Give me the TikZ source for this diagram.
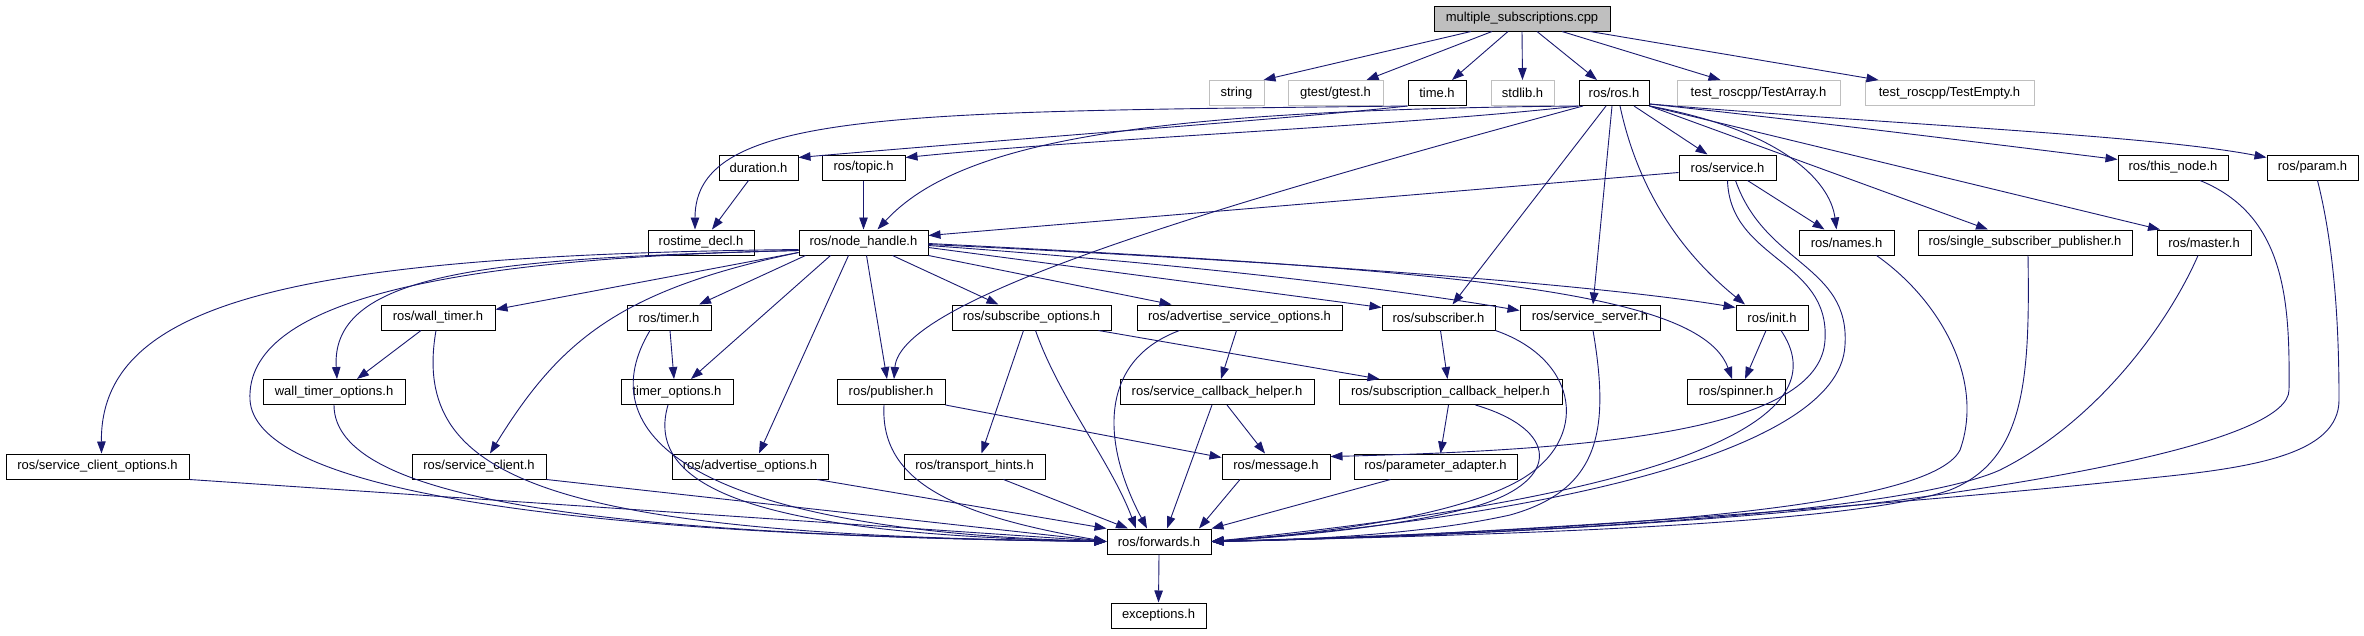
\documentclass[tikz,border=0pt]{standalone}
\usepackage{fontspec}
\setmainfont{Liberation Sans}
\usetikzlibrary{arrows.meta}
\definecolor{edgeblue}{HTML}{191970}
\definecolor{grayb}{HTML}{BFBFBF}
\begin{document}
\begin{tikzpicture}[x=1pt,y=-1pt,
  every node/.style={font=\fontsize{13pt}{15pt}\selectfont, inner sep=0pt, minimum height=25pt, anchor=center},
  hdr/.style={draw=black, line width=1pt, fill=white},
  ext/.style={draw=grayb, line width=1pt, fill=white},
  mainbox/.style={draw=black, line width=1pt, fill=grayb},
  dep/.style={draw=edgeblue, line width=0.9pt, -{Triangle[length=12pt,width=8.5pt]}, fill=none}
]
\fill[white] (0,0) rectangle (2364,635);
\useasboundingbox (0,0) rectangle (2364,635);

% ---- nodes ----
\node[mainbox, minimum width=176pt] (main) at (1522,18.5) {multiple\_subscriptions.cpp};
% row 1
\node[ext, minimum width=55pt] (string) at (1236.5,93) {string};
\node[ext, minimum width=95pt] (gtest) at (1335.5,93) {gtest/gtest.h};
\node[hdr, minimum width=58pt] (timeh) at (1437,93) {time.h};
\node[ext, minimum width=63pt] (stdlib) at (1522.5,93) {stdlib.h};
\node[hdr, minimum width=70pt] (rosh) at (1614,93) {ros/ros.h};
\node[ext, minimum width=163pt] (testarray) at (1758.5,93) {test\_roscpp/TestArray.h};
\node[ext, minimum width=169pt] (testempty) at (1949.5,93) {test\_roscpp/TestEmpty.h};
% row 2
\node[hdr, minimum width=79pt] (duration) at (758.5,167.5) {duration.h};
\node[hdr, minimum width=83pt] (topic) at (863.5,167.5) {ros/topic.h};
\node[hdr, minimum width=97pt] (service) at (1727.5,167.5) {ros/service.h};
\node[hdr, minimum width=110pt] (thisnode) at (2173,167.5) {ros/this\_node.h};
\node[hdr, minimum width=91pt] (param) at (2312.5,167.5) {ros/param.h};
% row 3
\node[hdr, minimum width=106pt] (rostime) at (701,242.5) {rostime\_decl.h};
\node[hdr, minimum width=129pt] (nodehandle) at (863.5,242.5) {ros/node\_handle.h};
\node[hdr, minimum width=95pt] (names) at (1846.5,242.5) {ros/names.h};
\node[hdr, minimum width=214pt] (ssp) at (2025,242.5) {ros/single\_subscriber\_publisher.h};
\node[hdr, minimum width=94pt] (master) at (2204,242.5) {ros/master.h};
% row 4
\node[hdr, minimum width=114pt] (walltimer) at (438,317.5) {ros/wall\_timer.h};
\node[hdr, minimum width=84pt] (timer) at (669,317.5) {ros/timer.h};
\node[hdr, minimum width=159pt] (subopts) at (1031.5,317.5) {ros/subscribe\_options.h};
\node[hdr, minimum width=205pt] (advsrvopts) at (1239.5,317.5) {ros/advertise\_service\_options.h};
\node[hdr, minimum width=113pt] (subscriber) at (1438.5,317.5) {ros/subscriber.h};
\node[hdr, minimum width=140pt] (srvserver) at (1590,317.5) {ros/service\_server.h};
\node[hdr, minimum width=72pt] (init) at (1772,317.5) {ros/init.h};
% row 5
\node[hdr, minimum width=142pt] (wtopts) at (334,392) {wall\_timer\_options.h};
\node[hdr, minimum width=112pt] (topts) at (677,392) {timer\_options.h};
\node[hdr, minimum width=108pt] (publisher) at (891,392) {ros/publisher.h};
\node[hdr, minimum width=194pt] (srvcbh) at (1217,392) {ros/service\_callback\_helper.h};
\node[hdr, minimum width=223pt] (subcbh) at (1450.5,392) {ros/subscription\_callback\_helper.h};
\node[hdr, minimum width=98pt] (spinner) at (1736,392) {ros/spinner.h};
% row 6
\node[hdr, minimum width=183pt] (sco) at (97.5,466.5) {ros/service\_client\_options.h};
\node[hdr, minimum width=134pt] (sc) at (479,466.5) {ros/service\_client.h};
\node[hdr, minimum width=156pt] (advopts) at (750,466.5) {ros/advertise\_options.h};
\node[hdr, minimum width=141pt] (th) at (974.5,466.5) {ros/transport\_hints.h};
\node[hdr, minimum width=108pt] (message) at (1276,466.5) {ros/message.h};
\node[hdr, minimum width=163pt] (padapter) at (1435.5,466.5) {ros/parameter\_adapter.h};
% row 7, 8
\node[hdr, minimum width=104pt] (forwards) at (1159,541.5) {ros/forwards.h};
\node[hdr, minimum width=95pt] (exceptions) at (1158.5,615.5) {exceptions.h};

% ---- edges from main ----
\draw[dep] ([xshift=-51pt]main.south) -- ([xshift=27pt]string.north);
\draw[dep] ([xshift=-30pt]main.south) -- ([xshift=31pt]gtest.north);
\draw[dep] ([xshift=-14pt]main.south) -- ([xshift=15pt]timeh.north);
\draw[dep] (main.south) -- (stdlib.north);
\draw[dep] ([xshift=15pt]main.south) -- ([xshift=-17pt]rosh.north);
\draw[dep] ([xshift=40pt]main.south) -- ([xshift=-38pt]testarray.north);
\draw[dep] ([xshift=68pt]main.south) -- ([xshift=-71pt]testempty.north);

% ---- time.h ----
\draw[dep] (timeh.south west) .. controls (1300,118) and (1000,140) .. ([yshift=10pt]duration.east);
\draw[dep] (timeh.south west) .. controls (900,112) and (695,110) .. ([xshift=-6pt]rostime.north);
\draw[dep] ([xshift=-10pt]duration.south) -- ([xshift=11pt]rostime.north);
\draw[dep] (topic.south) -- (nodehandle.north);

% ---- ros.h ----
\draw[dep] (rosh.south west) .. controls (1400,126) and (1100,138) .. ([yshift=10pt]topic.east);
\draw[dep] (rosh.south west) .. controls (1150,110) and (960,140) .. ([xshift=14pt]nodehandle.north);
\draw[dep] ([xshift=-31pt]rosh.south) .. controls (1200,210) and (900,300) .. ([xshift=3pt]publisher.north);
\draw[dep] ([xshift=-8pt]rosh.south) -- ([xshift=14pt]subscriber.north);
\draw[dep] ([xshift=-2pt]rosh.south) -- ([xshift=3pt]srvserver.north);
\draw[dep] ([xshift=6pt]rosh.south) .. controls (1640,200) and (1690,260) .. ([xshift=-27pt]init.north);
\draw[dep] ([xshift=20pt]rosh.south) -- ([xshift=-20pt]service.north);
\draw[dep] (rosh.south east) .. controls (1780,130) and (1830,180) .. ([xshift=-10pt]names.north);
\draw[dep] (rosh.south east) -- ([xshift=-37pt]ssp.north);
\draw[dep] (rosh.south east) -- ([xshift=-44pt]master.north);
\draw[dep] ([yshift=2pt]rosh.south east) .. controls (1800,120) and (2000,145) .. ([yshift=8pt]thisnode.west);
\draw[dep] ([yshift=2pt]rosh.south east) .. controls (1900,125) and (2150,135) .. ([yshift=10pt]param.west);

% ---- service.h ----
\draw[dep] ([yshift=-5pt]service.west) -- ([yshift=7pt]nodehandle.east);
\draw[dep] ([xshift=20pt]service.south) -- ([xshift=-22pt]names.north);
\draw[dep] (service.south) .. controls (1730,260) and (1830,260) .. (1825,340) .. controls (1820,430) and (1600,450) .. ([yshift=10pt]message.east);
\draw[dep] ([xshift=8pt]service.south) .. controls (1765,265) and (1850,265) .. (1845,345) .. controls (1840,460) and (1500,520) .. (forwards.east);

% ---- node_handle.h ----
\draw[dep] ([yshift=-1pt]nodehandle.east) .. controls (1450,270) and (1700,290) .. ([xshift=-4pt]spinner.north);
\draw[dep] ([yshift=-2pt]nodehandle.east) .. controls (1300,262) and (1600,285) .. ([yshift=10pt]init.west);
\draw[dep] ([yshift=-3pt]nodehandle.east) .. controls (1200,265) and (1400,290) .. ([yshift=7pt]srvserver.west);
\draw[dep] ([yshift=-5pt]nodehandle.east) -- ([yshift=10pt]subscriber.west);
\draw[dep] (nodehandle.south east) -- ([xshift=-68pt]advsrvopts.north);
\draw[dep] ([xshift=29pt]nodehandle.south) -- ([xshift=-33pt]subopts.north);
\draw[dep] ([xshift=3pt]nodehandle.south) -- ([xshift=-4pt]publisher.north);
\draw[dep] ([xshift=-15pt]nodehandle.south) -- ([xshift=9pt]advopts.north);
\draw[dep] ([xshift=-33pt]nodehandle.south) -- ([xshift=14pt]topts.north);
\draw[dep] ([xshift=-58pt]nodehandle.south) -- ([xshift=30pt]timer.north);
\draw[dep] ([yshift=-10pt]nodehandle.west) .. controls (620,290) and (560,340) .. ([xshift=11pt]sc.north);
\draw[dep] ([yshift=-10pt]nodehandle.west) -- ([yshift=8pt]walltimer.east);
\draw[dep] ([yshift=-8pt]nodehandle.west) .. controls (500,258) and (330,270) .. ([xshift=3pt]wtopts.north);
\draw[dep] ([yshift=-8pt]nodehandle.west) .. controls (450,258) and (245,300) .. (250,400) .. controls (255,480) and (500,535) .. (forwards.west);
\draw[dep] ([yshift=-7pt]nodehandle.west) .. controls (300,255) and (100,300) .. ([xshift=4pt]sco.north);

% ---- timers ----
\draw[dep] ([xshift=-17pt]walltimer.south) -- ([xshift=23pt]wtopts.north);
\draw[dep] ([xshift=-2pt]walltimer.south) .. controls (410,480) and (550,535) .. (forwards.west);
\draw[dep] (wtopts.south) .. controls (334,500) and (600,535) .. (forwards.west);
\draw[dep] ([xshift=1pt]timer.south) -- ([xshift=-3pt]topts.north);
\draw[dep] ([xshift=-19pt]timer.south) .. controls (590,430) and (680,530) .. (forwards.west);
\draw[dep] ([xshift=-9pt]topts.south) .. controls (640,500) and (800,535) .. (forwards.west);

% ---- row 6 into forwards ----
\draw[dep] (sco.south east) -- (forwards.west);
\draw[dep] (sc.south east) -- (forwards.west);
\draw[dep] ([xshift=67pt]advopts.south) -- (forwards.north west);
\draw[dep] ([xshift=29pt]th.south) -- ([xshift=-31pt]forwards.north);

% ---- options / helpers ----
\draw[dep] ([xshift=-8pt]subopts.south) -- ([xshift=7pt]th.north);
\draw[dep] ([xshift=4pt]subopts.south) .. controls (1060,400) and (1110,460) .. ([xshift=-23pt]forwards.north);
\draw[dep] ([xshift=67pt]subopts.south) -- ([xshift=-71pt]subcbh.north);
\draw[dep] ([xshift=-3pt]advsrvopts.south) -- ([xshift=4pt]srvcbh.north);
\draw[dep] ([xshift=-60pt]advsrvopts.south) .. controls (1100,360) and (1100,440) .. ([xshift=-12pt]forwards.north);
\draw[dep] ([xshift=2pt]subscriber.south) -- ([xshift=-3pt]subcbh.north);
\draw[dep] (subscriber.south east) .. controls (1580,360) and (1590,440) .. (1520,480) .. controls (1450,520) and (1300,535) .. (forwards.east);
\draw[dep] ([xshift=3pt]srvserver.south) .. controls (1610,430) and (1600,490) .. (1510,515) .. controls (1420,535) and (1300,540) .. (forwards.east);
\draw[dep] ([xshift=-7pt]publisher.south) .. controls (880,480) and (950,515) .. (forwards.west);
\draw[dep] (publisher.south east) -- ([yshift=9pt]message.west);
\draw[dep] ([xshift=10pt]srvcbh.south) -- ([xshift=-11pt]message.north);
\draw[dep] ([xshift=-5pt]srvcbh.south) -- ([xshift=8pt]forwards.north);
\draw[dep] ([xshift=-2pt]subcbh.south) -- ([xshift=5pt]padapter.north);
\draw[dep] ([xshift=25pt]subcbh.south) .. controls (1560,430) and (1560,480) .. (1480,505) .. controls (1400,528) and (1280,537) .. (forwards.east);
\draw[dep] ([xshift=-45pt]padapter.south) -- (forwards.north east);
\draw[dep] ([xshift=-36pt]message.south) -- ([xshift=40pt]forwards.north);

% ---- init ----
\draw[dep] ([xshift=-6pt]init.south) -- ([xshift=9pt]spinner.north);
\draw[dep] ([xshift=9pt]init.south) .. controls (1835,410) and (1720,490) .. (forwards.east);

% ---- right side into forwards ----
\draw[dep] ([xshift=30pt]names.south) .. controls (1940,300) and (1985,380) .. (1960,450) .. controls (1930,510) and (1600,530) .. (forwards.east);
\draw[dep] ([xshift=3pt]ssp.south) .. controls (2030,380) and (2025,460) .. (1950,490) .. controls (1850,525) and (1500,535) .. (forwards.east);
\draw[dep] ([xshift=-6pt]master.south) .. controls (2170,320) and (2100,420) .. (2000,470) .. controls (1900,515) and (1500,535) .. (forwards.east);
\draw[dep] ([xshift=27pt]thisnode.south) .. controls (2285,215) and (2290,300) .. (2289,390) .. controls (2289,440) and (2050,480) .. (1900,500) .. controls (1700,525) and (1400,538) .. (forwards.east);
\draw[dep] ([xshift=5pt]param.south) .. controls (2335,250) and (2339,330) .. (2339,400) .. controls (2339,455) and (2250,468) .. (2150,478) .. controls (1900,505) and (1450,538) .. (forwards.east);

\draw[dep] (forwards.south) -- (exceptions.north);
\end{tikzpicture}
\end{document}
